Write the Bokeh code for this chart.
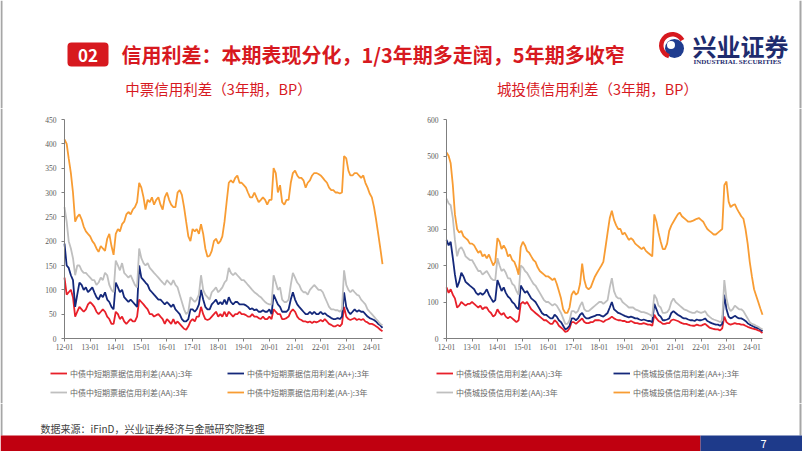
import datetime as dt
from bokeh.plotting import figure
from bokeh.models import (Range1d, FixedTicker, DatetimeTickFormatter, Legend, LegendItem,
                          BoxAnnotation, ColumnDataSource)
from bokeh.layouts import column, row
from bokeh.embed import file_html
from bokeh.resources import INLINE
from bokeh.core.properties import value

# ---------------- data ----------------
START_YEAR = 2012
N_MONTHS = 150
DATES = [dt.datetime(START_YEAR + i // 12, 1 + i % 12, 1) for i in range(N_MONTHS)]

LEFT_TITLE = "中票信用利差（3年期，BP）"
RIGHT_TITLE = "城投债信用利差（3年期，BP）"
LEFT_LABELS = ["中债中短期票据信用利差(AAA):3年", "中债中短期票据信用利差(AA+):3年",
               "中债中短期票据信用利差(AA):3年", "中债中短期票据信用利差(AA-):3年"]
RIGHT_LABELS = ["中债城投债信用利差(AAA):3年", "中债城投债信用利差(AA+):3年",
                "中债城投债信用利差(AA):3年", "中债城投债信用利差(AA-):3年"]
LEFT_YTICKS = [0, 50, 100, 150, 200, 250, 300, 350, 400, 450]
RIGHT_YTICKS = [0, 100, 200, 300, 400, 500, 600]

MTN_AAA = [
    125, 90, 95, 100, 85, 45, 55, 65, 60, 55, 60, 70,
    75, 70, 65, 55, 50, 55, 60, 55, 45, 40, 30, 30,
    55, 50, 40, 45, 35, 30, 35, 40, 35, 35, 45, 80,
    75, 70, 65, 60, 50, 50, 45, 48, 50, 45, 40, 30,
    40, 35, 30, 40, 30, 35, 30, 25, 20, 18, 25, 35,
    40, 35, 45, 45, 65, 50, 40, 38, 40, 45, 50, 55,
    45, 50, 45, 55, 45, 55, 50, 45, 50, 50, 55, 50,
    50, 48, 45, 45, 50, 45, 45, 42, 40, 45, 40, 40,
    45, 40, 60, 55, 50, 50, 40, 40, 42, 45, 55, 60,
    55, 45, 40, 38, 35, 35, 33, 35, 32, 35, 33, 35,
    38, 35, 40, 35, 30, 28, 25, 25, 28, 25, 30, 65,
    45, 40, 38, 40, 42, 38, 40, 38, 40, 35, 33, 30,
    30, 28, 25, 22, 18, 15]
MTN_AAP = [
    195, 150, 145, 130, 120, 65, 90, 115, 110, 100, 105, 95,
    100, 105, 95, 85, 80, 90, 85, 95, 80, 75, 65, 60,
    115, 105, 95, 100, 85, 80, 75, 80, 75, 70, 65, 150,
    125, 120, 115, 110, 100, 95, 90, 85, 80, 80, 75, 70,
    75, 70, 65, 70, 60, 55, 50, 40, 35, 35, 40, 60,
    60, 55, 60, 70, 100, 80, 65, 60, 60, 70, 75, 80,
    70, 75, 70, 80, 70, 85, 75, 70, 75, 75, 70, 70,
    70, 68, 65, 60, 62, 58, 60, 55, 55, 58, 55, 55,
    60, 50, 90, 80, 70, 65, 55, 55, 55, 60, 80, 95,
    80, 70, 65, 60, 55, 50, 50, 55, 50, 55, 50, 50,
    55, 50, 52, 48, 45, 42, 40, 40, 42, 40, 45, 95,
    65, 55, 50, 55, 60, 55, 58, 55, 55, 50, 45, 42,
    40, 38, 35, 30, 27, 22]
MTN_AA = [
    270, 240, 200, 185, 165, 130, 150, 150, 140, 135, 135, 130,
    125, 120, 120, 110, 115, 125, 120, 135, 130, 110, 100, 95,
    160, 150, 140, 155, 135, 130, 125, 130, 120, 110, 105, 185,
    165, 155, 150, 155, 145, 140, 135, 130, 125, 120, 115, 110,
    120, 115, 110, 120, 110, 105, 90, 75, 60, 50, 55, 85,
    80, 75, 80, 90, 130, 100, 90, 85, 80, 95, 100, 105,
    95, 100, 105, 115, 120, 145, 135, 130, 135, 130, 125, 120,
    120, 115, 110, 105, 100, 95, 92, 88, 85, 80, 75, 72,
    70, 70, 130, 115, 100, 105, 80, 75, 75, 80, 110, 135,
    125, 115, 110, 100, 95, 95, 90, 100, 105, 110, 105, 100,
    100, 95, 85, 75, 65, 60, 60, 58, 58, 55, 60, 140,
    110, 100, 95, 100, 95, 90, 88, 80, 75, 70, 60, 55,
    50, 45, 40, 35, 30, 27]
MTN_AAM = [
    409, 400, 370, 340, 300, 240, 250, 255, 245, 230, 220, 215,
    210, 200, 195, 185, 178, 190, 185, 180, 205, 215, 190, 172,
    215, 225, 220, 235, 240, 255, 260, 255, 265, 270, 280, 320,
    310, 290, 265, 285, 280, 290, 275, 285, 290, 275, 265, 290,
    300, 285, 275, 270, 270, 300, 305, 295, 270, 240, 210, 200,
    225, 220, 225, 215, 235, 215, 185, 168, 170, 180, 200, 205,
    195, 200, 210, 240, 280, 320, 325, 320, 330, 335, 320, 320,
    315, 310, 300, 290, 290, 300, 290, 280, 285, 290, 285, 275,
    285, 285, 350, 340, 300, 315, 280, 275, 285, 285, 320, 340,
    345, 335, 330, 330, 325, 310, 320, 325, 335, 340, 340, 338,
    335, 330, 325, 320, 310, 305, 305, 300, 300, 298, 300, 375,
    370, 345, 335, 335, 340, 340, 335, 330, 335, 320, 310, 298,
    290, 270, 245, 215, 185, 153]

UCB_AAA = [
    140, 125, 135, 120, 110, 85, 90, 100, 95, 90, 95, 95,
    100, 95, 90, 85, 90, 80, 85, 85, 75, 70, 60, 65,
    80, 70, 65, 70, 60, 55, 60, 55, 50, 45, 50, 95,
    100, 95, 100, 90, 80, 75, 70, 65, 60, 55, 50, 50,
    45, 40, 40, 50, 45, 35, 30, 25, 18, 20, 28, 45,
    45, 40, 45, 50, 55, 45, 42, 42, 45, 45, 50, 50,
    50, 48, 45, 50, 52, 55, 60, 55, 52, 50, 50, 48,
    48, 45, 45, 48, 45, 42, 42, 40, 40, 42, 40, 38,
    38, 35, 65, 55, 48, 45, 40, 40, 42, 42, 50, 52,
    50, 48, 45, 42, 40, 40, 38, 36, 35, 35, 38, 36,
    35, 38, 40, 35, 30, 28, 26, 25, 25, 22, 28, 60,
    45, 40, 38, 40, 42, 40, 40, 38, 38, 35, 32, 30,
    28, 26, 25, 22, 20, 15]
UCB_AAP = [
    270, 255, 265, 220, 175, 140, 155, 180, 170, 155, 150, 145,
    140, 135, 125, 120, 125, 120, 125, 135, 120, 110, 100, 105,
    160, 145, 130, 140, 125, 115, 110, 100, 95, 85, 80, 145,
    135, 125, 130, 120, 110, 105, 100, 90, 80, 70, 65, 65,
    60, 55, 55, 65, 60, 50, 45, 35, 25, 28, 35, 55,
    55, 50, 55, 65, 70, 60, 55, 55, 58, 60, 62, 65,
    65, 62, 60, 65, 70, 85, 100, 80, 75, 70, 68, 65,
    62, 60, 58, 60, 58, 55, 55, 52, 50, 52, 50, 48,
    48, 45, 95, 80, 65, 60, 50, 50, 52, 55, 70, 75,
    70, 65, 62, 58, 55, 55, 52, 50, 50, 48, 52, 50,
    50, 52, 55, 48, 45, 42, 40, 38, 38, 35, 40, 120,
    80, 60, 55, 58, 62, 58, 55, 55, 52, 48, 42, 38,
    35, 32, 30, 28, 25, 20]
UCB_AA = [
    383, 370, 365, 330, 270, 225, 245, 250, 240, 225, 220, 215,
    215, 205, 195, 185, 185, 175, 180, 185, 175, 165, 160, 160,
    220, 200, 185, 190, 180, 165, 165, 150, 145, 130, 120, 200,
    195, 185, 180, 170, 160, 150, 145, 135, 125, 115, 105, 100,
    100, 95, 90, 95, 90, 80, 70, 55, 40, 40, 50, 75,
    75, 70, 75, 90, 100, 80, 75, 75, 80, 85, 90, 95,
    100, 100, 95, 100, 105, 140, 165, 130, 115, 110, 110, 100,
    95, 90, 85, 85, 85, 80, 78, 75, 72, 72, 70, 68,
    65, 60, 120, 110, 90, 85, 70, 70, 72, 80, 100, 110,
    100, 95, 90, 85, 80, 78, 75, 72, 70, 70, 75, 72,
    70, 72, 75, 65, 60, 55, 52, 50, 48, 45, 50, 160,
    110, 85, 75, 80, 90, 85, 80, 80, 75, 65, 55, 45,
    40, 38, 35, 32, 28, 25]
UCB_AAM = [
    510, 500, 480, 420, 340, 300, 290, 295, 280, 275, 270, 260,
    260, 255, 245, 235, 240, 225, 230, 220, 230, 215, 200, 210,
    275, 265, 245, 255, 245, 225, 230, 215, 210, 195, 175, 250,
    265, 255, 240, 235, 225, 215, 210, 195, 185, 180, 175, 170,
    170, 165, 160, 165, 150, 130, 110, 80, 70, 70, 85, 120,
    130, 120, 125, 150, 205, 160, 140, 135, 140, 155, 170, 180,
    190, 200, 210, 250, 290, 330, 350, 325, 310, 300, 300, 285,
    290, 280, 270, 275, 270, 260, 255, 250, 245, 250, 240, 235,
    230, 225, 340, 320, 290, 265, 245, 245, 260, 295, 310, 320,
    330, 340, 345, 335, 330, 325, 320, 320, 322, 325, 328, 330,
    325, 320, 310, 300, 295, 290, 285, 285, 290, 295, 300, 420,
    430, 375, 360, 365, 368, 355, 345, 335, 328, 300, 260, 210,
    170, 135, 118, 100, 82, 65]

COLORS = ["#e8202a", "#14287a", "#bfbfbf", "#f89c33"]
RED = "#d7191f"
NAVY = "#1e2c6e"
EDGE = "#a6a6a6"
CJK = "Noto Sans CJK SC"

EPOCH = dt.datetime(1970, 1, 1)


def ms(d):
    return (d - EPOCH).total_seconds() * 1000


YEAR_TICKS = [ms(d) for d in DATES if d.month == 1]

CH_H = 295       # chart figure height
TOP_PX = 11      # y of the top tick inside the chart figure
ZERO_PX = 230    # y of the zero line inside the chart figure


def chart(width, ax_left, ax_right, ymax, yticks, series, labels, legend_x, edge_x):
    t0, t1 = ms(DATES[0]), ms(DATES[-1])
    mpp = (t1 - t0) / (ax_right - ax_left)
    upp = ymax / (ZERO_PX - TOP_PX)
    p = figure(width=width, height=CH_H, x_axis_type="datetime",
               x_range=Range1d(t0 - ax_left * mpp, t1 + (width - ax_right) * mpp),
               y_range=Range1d(-(CH_H - ZERO_PX) * upp, ymax + TOP_PX * upp),
               toolbar_location=None, output_backend="svg", min_border=0)
    p.grid.grid_line_color = None
    p.outline_line_color = None
    p.add_layout(BoxAnnotation(left=edge_x, right=edge_x + 2, left_units="screen",
                               right_units="screen", fill_color=EDGE, fill_alpha=1,
                               line_color=None, level="underlay"))
    src = ColumnDataSource(dict(x=DATES, s0=series[0], s1=series[1], s2=series[2], s3=series[3]))
    rends = []
    for i in range(4):
        rends.append(p.line("x", "s%d" % i, source=src, line_color=COLORS[i], line_width=1.8))
    p.xaxis.fixed_location = 0
    p.yaxis.fixed_location = t0
    p.xaxis.bounds = (t0, t1)
    p.yaxis.bounds = (0, ymax)
    p.xaxis.ticker = FixedTicker(ticks=YEAR_TICKS)
    p.xaxis.formatter = DatetimeTickFormatter(years="%y-%m", months="%y-%m", days="%y-%m")
    p.yaxis.ticker = FixedTicker(ticks=yticks)
    for ax in (p.xaxis[0], p.yaxis[0]):
        ax.axis_line_color = "#7f7f7f"
        ax.major_tick_line_color = "#7f7f7f"
        ax.major_tick_out = 3
        ax.major_tick_in = 0
        ax.minor_tick_line_color = None
        ax.major_label_text_font = "Liberation Serif"
        ax.major_label_text_font_size = "7.5px"
        ax.major_label_text_color = "#595959"
    p.xaxis.major_label_standoff = 2
    p.yaxis.major_label_standoff = 5
    items = [LegendItem(label=labels[i], renderers=[rends[i]]) for i in range(4)]
    leg = Legend(items=items, location=(legend_x, 5), orientation="horizontal", ncols=2,
                 glyph_width=17, glyph_height=12, label_height=12, label_width=150,
                 label_standoff=3, spacing=7, padding=0, margin=0,
                 border_line_color=None, background_fill_alpha=0,
                 label_text_font=CJK, label_text_font_size="8px", label_text_color="#666666")
    p.add_layout(leg)
    return p


def edge_lines(fig, y0, y1):
    fig.quad(left=[0, 799], right=[2, 801], top=[y0, y0], bottom=[y1, y1],
             fill_color=EDGE, line_color=None)


# ---------------- header ----------------
hdr = figure(width=802, height=108, x_range=Range1d(0, 802), y_range=Range1d(108, 0),
             toolbar_location=None, output_backend="svg", min_border=0,
             x_axis_location=None, y_axis_location=None)
hdr.grid.grid_line_color = None
hdr.outline_line_color = None
edge_lines(hdr, 0, 108)
hdr.add_layout(BoxAnnotation(left=67, right=108, top=42, bottom=66, fill_color=RED,
                             fill_alpha=1, line_color=None, border_radius=4, level="underlay"))
hdr.text(x=[87.5], y=[54.5], text=["02"], text_align="center", text_baseline="middle",
         text_color="white", text_font_size="17px", text_font_style="bold", text_font=value(CJK))
hdr.text(x=[121], y=[54], text=["信用利差：本期表现分化，1/3年期多走阔，5年期多收窄"],
         text_align="left", text_baseline="middle", text_color=RED, text_font_size="20px",
         text_font_style="bold", text_font=value(CJK))
# logo
hdr.circle(x=[674], y=[48], radius=9.5, fill_color="#1f3c8f", line_color=None)
hdr.circle(x=[670.5], y=[44.5], radius=4, fill_color="white", line_color=None)
hdr.annular_wedge(x=[672], y=[45], inner_radius=9, outer_radius=13.5,
                  start_angle=0.5, end_angle=4.4, fill_color="#d7191f", line_color=None)
hdr.text(x=[692], y=[45], text=["兴业证券"], text_align="left", text_baseline="middle",
         text_color=NAVY, text_font_size="24px", text_font_style="bold", text_font=value(CJK))
hdr.text(x=[693], y=[61], text=["INDUSTRIAL SECURITIES"], text_align="left", text_baseline="middle",
         text_color=NAVY, text_font_size="7px", text_font_style="bold",
         text_font=value("Liberation Serif"))
hdr.text(x=[218, 597], y=[88, 88], text=[LEFT_TITLE, RIGHT_TITLE], text_align="center",
         text_baseline="middle", text_color=RED, text_font_size="14.5px", text_font=value(CJK))

# ---------------- charts ----------------
left = chart(401, 64, 382, 450, LEFT_YTICKS, [MTN_AAA, MTN_AAP, MTN_AA, MTN_AAM],
             LEFT_LABELS, 50, 0)
right = chart(401, 45, 361, 600, RIGHT_YTICKS, [UCB_AAA, UCB_AAP, UCB_AA, UCB_AAM],
              RIGHT_LABELS, 35, 398)

# ---------------- footer ----------------
ftr = figure(width=802, height=48, x_range=Range1d(0, 802), y_range=Range1d(451, 403),
             toolbar_location=None, output_backend="svg", min_border=0,
             x_axis_location=None, y_axis_location=None)
ftr.grid.grid_line_color = None
ftr.outline_line_color = None
edge_lines(ftr, 403, 435)
ftr.text(x=[40], y=[428], text=["数据来源：iFinD，兴业证券经济与金融研究院整理"], text_align="left",
         text_baseline="middle", text_color="#404040", text_font_size="10px", text_font=value(CJK))
ftr.quad(left=[0], right=[700], top=[435], bottom=[451], fill_color="#c00010", line_color=None)
ftr.quad(left=[700], right=[802], top=[435], bottom=[451], fill_color="#1e3a8a", line_color=None)
ftr.text(x=[763], y=[443], text=["7"], text_align="center", text_baseline="middle",
         text_color="white", text_font_size="11px", text_font=value(CJK))

layout = column(hdr, row(left, right), ftr)
open("out.html", "w").write(file_html(layout, INLINE))
